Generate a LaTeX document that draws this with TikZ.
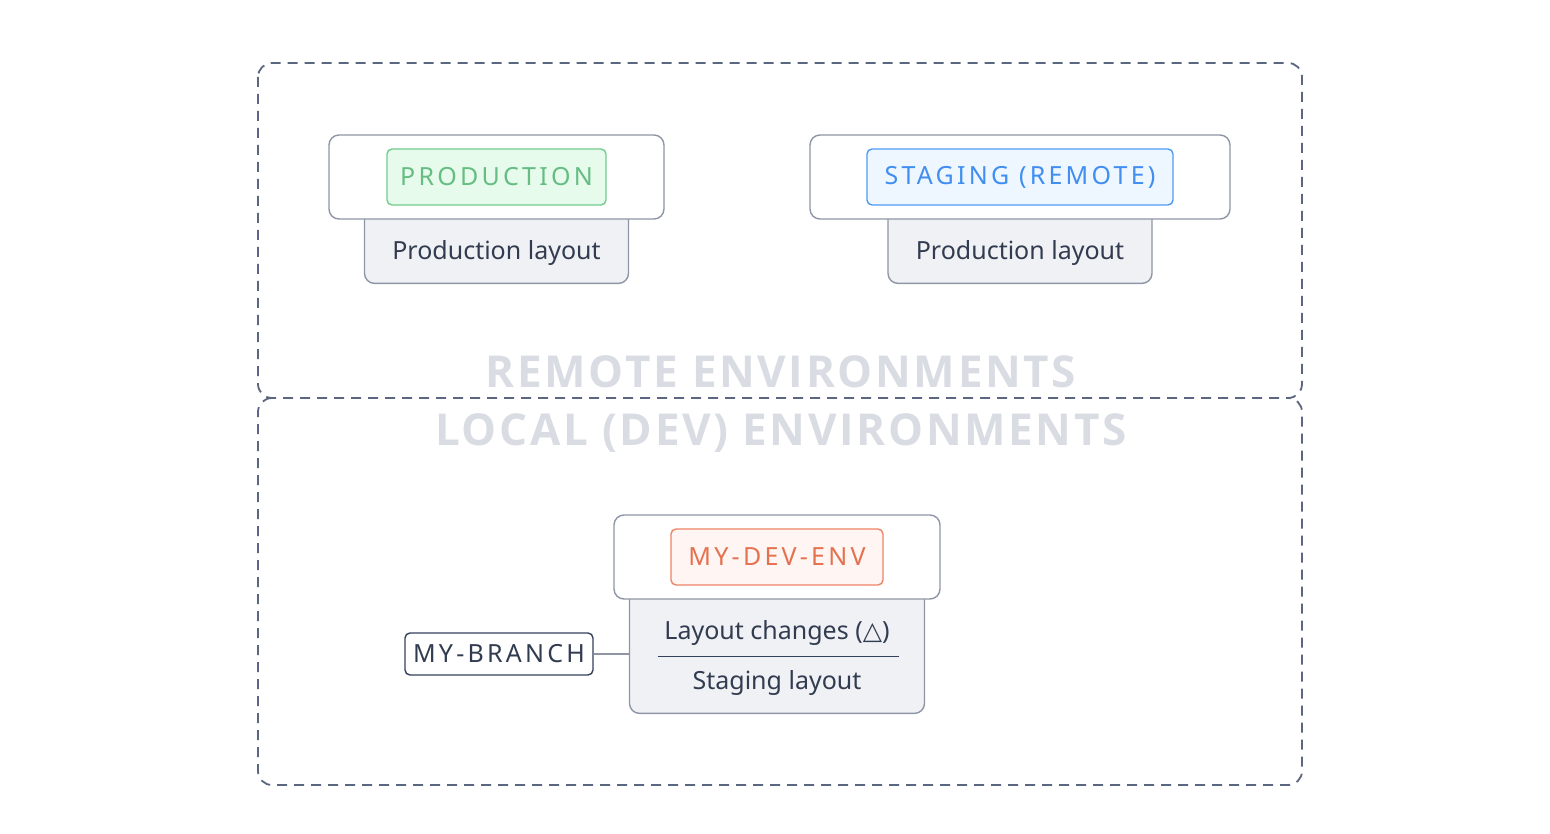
\documentclass[tikz,border=0pt]{standalone}
\usepackage{fontspec}
\setmainfont{Noto Sans}
\newfontfamily\tagfont[LetterSpace=13]{Noto Sans}
\newfontfamily\headfont[LetterSpace=6]{Open Sans}
\newfontfamily\symfont{DejaVu Sans}
\usepackage{tikz}
\usetikzlibrary{positioning, backgrounds}

\definecolor{framecol}{HTML}{5B6780}
\definecolor{boxline}{HTML}{8E96A6}
\definecolor{layfill}{HTML}{F0F1F4}
\definecolor{inkcol}{HTML}{323C50}
\definecolor{headcol}{HTML}{D9DDE3}
\definecolor{prodline}{HTML}{72CC8C}
\definecolor{prodfill}{HTML}{E7FBEC}
\definecolor{prodtext}{HTML}{66BD83}
\definecolor{stageline}{HTML}{4E9CF6}
\definecolor{stagefill}{HTML}{EEF6FF}
\definecolor{stagetext}{HTML}{3F8EF0}
\definecolor{devline}{HTML}{EE8467}
\definecolor{devfill}{HTML}{FFF5F2}
\definecolor{devtext}{HTML}{E4714F}
\definecolor{branchline}{HTML}{34415A}

\tikzset{
  envframe/.style={draw=framecol, line width=1.8pt, dash pattern=on 10pt off 7pt, rounded corners=14pt},
  envbox/.style={draw=boxline, fill=white, line width=1.4pt, rounded corners=10pt, inner sep=0pt, minimum height=84pt},
  laybox/.style={draw=boxline, fill=layfill, line width=1.4pt, rounded corners=10pt, inner sep=0pt},
  envtag/.style={line width=1.4pt, rounded corners=5pt, inner sep=0pt, minimum height=56pt, font=\fontsize{25}{29}\tagfont},
  laytext/.style={text=inkcol, font=\fontsize{25}{29}\selectfont},
  headtext/.style={text=headcol, font=\fontsize{44}{50}\headfont\bfseries, anchor=base}
}

\begin{document}
\begin{tikzpicture}[x=1pt, y=-1pt]
  \useasboundingbox (0,0) rectangle (1550,834);

  % environment frames
  \draw[envframe] (258,63) rectangle (1302,398);
  \draw[envframe] (272,398) -- (258,398) -- (258,785) -- (1302,785) -- (1302,398) -- (1288,398);
  \node[headtext] (remotehead) at (781,387) {REMOTE ENVIRONMENTS};
  \node[headtext] (localhead) at (781,445) {LOCAL (DEV) ENVIRONMENTS};

  % production
  \node[envbox, minimum width=335pt] (prodbox) at (496.5,177) {};
  \node[envtag, draw=prodline, fill=prodfill, text=prodtext, minimum width=219pt] (prodtag) at (prodbox) {PRODUCTION};
  \begin{pgfonlayer}{background}
    \node[laybox, minimum width=264pt, minimum height=77pt, below=-14pt of prodbox,
          label={[laytext, yshift=-8pt]center:Production layout}] (prodlay) {};
  \end{pgfonlayer}

  % staging
  \node[envbox, minimum width=420pt] (stagebox) at (1020,177) {};
  \node[envtag, draw=stageline, fill=stagefill, text=stagetext, minimum width=306pt] (stagetag) at (stagebox) {STAGING (REMOTE)};
  \begin{pgfonlayer}{background}
    \node[laybox, minimum width=264pt, minimum height=77pt, below=-14pt of stagebox,
          label={[laytext, yshift=-8pt]center:Production layout}] (stagelay) {};
  \end{pgfonlayer}

  % dev environment
  \node[envbox, minimum width=326pt] (devbox) at (777,557) {};
  \node[envtag, draw=devline, fill=devfill, text=devtext, minimum width=212pt] (devtag) at (devbox) {MY-DEV-ENV};
  \begin{pgfonlayer}{background}
    \node[laybox, minimum width=295pt, minimum height=127pt, below=-14pt of devbox] (devlay) {};
  \end{pgfonlayer}
  \node[laytext] (devchg) at ([yshift=16.5pt]devlay.center) {Layout changes ({\symfont △})};
  \node[laytext] (devstg) at ([yshift=-33.5pt]devlay.center) {Staging layout};
  \coordinate (ruleL) at ([xshift=-119.5pt, yshift=-6.5pt]devlay.center);
  \coordinate (ruleR) at ([xshift=121.5pt, yshift=-6.5pt]devlay.center);
  \draw[branchline, line width=1.4pt] (ruleL) -- (ruleR);

  % branch
  \node[draw=branchline, fill=white, line width=1.4pt, rounded corners=5pt, inner sep=0pt,
        minimum width=188pt, minimum height=42pt, text=inkcol, font=\fontsize{25}{29}\tagfont] (branch) at (499,654) {MY-BRANCH};
  \draw[boxline, line width=1.4pt] (branch.east) -- (branch.east -| devlay.west);
\end{tikzpicture}
\end{document}
